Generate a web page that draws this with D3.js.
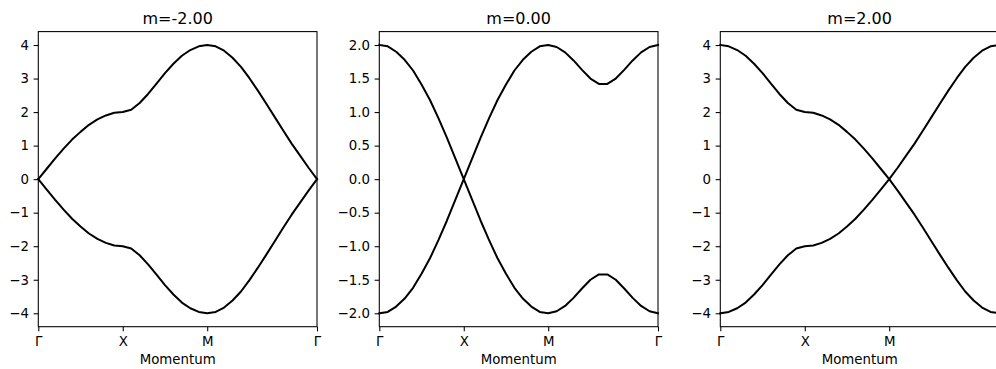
<!DOCTYPE html>
<html>
<head>
<meta charset="utf-8">
<script src="https://cdn.jsdelivr.net/npm/d3@7"></script>
<style>
  html, body { margin: 0; padding: 0; background: #fff; overflow: hidden; }
  svg { display: block; font-family: "DejaVu Sans", sans-serif; }
</style>
</head>
<body>
<svg id="chart" width="996" height="369"></svg>
<script>
// ---- data ----
const titles = ["m=-2.00", "m=0.00", "m=2.00"];
const xTickPos = [0, 10, 20, 33];
const xTickLabels = ["Γ", "X", "M", "Γ"];
const xLabel = "Momentum";
const yTicksA = [-4, -3, -2, -1, 0, 1, 2, 3, 4];
const yTicksB = [-2.0, -1.5, -1.0, -0.5, 0.0, 0.5, 1.0, 1.5, 2.0];

const upperM2 = [0.00, 0.31, 0.62, 0.91, 1.18, 1.41, 1.62, 1.78, 1.90, 1.98, 2.00,
  2.07, 2.27, 2.54, 2.85, 3.16, 3.44, 3.68, 3.85, 3.96, 4.00,
  3.96, 3.83, 3.62, 3.35, 3.01, 2.64, 2.25, 1.85, 1.45, 1.06, 0.70, 0.34, 0.00];
const lowerM2 = [0.00, -0.31, -0.62, -0.91, -1.18, -1.41, -1.62, -1.78, -1.90, -1.98, -2.00,
  -2.07, -2.27, -2.54, -2.85, -3.16, -3.44, -3.68, -3.85, -3.96, -4.00,
  -3.96, -3.83, -3.62, -3.35, -3.01, -2.64, -2.25, -1.85, -1.45, -1.06, -0.70, -0.34, 0.00];

const upperM0 = [2.00, 1.98, 1.90, 1.78, 1.62, 1.41, 1.18, 0.91, 0.62, 0.31, 0.00,
  0.31, 0.62, 0.91, 1.18, 1.41, 1.62, 1.78, 1.90, 1.98, 2.00,
  1.97, 1.89, 1.77, 1.63, 1.50, 1.42, 1.42, 1.50, 1.63, 1.77, 1.89, 1.97, 2.00];
const lowerM0 = [-2.00, -1.98, -1.90, -1.78, -1.62, -1.41, -1.18, -0.91, -0.62, -0.31, 0.00,
  -0.31, -0.62, -0.91, -1.18, -1.41, -1.62, -1.78, -1.90, -1.98, -2.00,
  -1.97, -1.89, -1.77, -1.63, -1.50, -1.42, -1.42, -1.50, -1.63, -1.77, -1.89, -1.97, -2.00];

const upperP2 = [4.00, 3.96, 3.85, 3.68, 3.44, 3.16, 2.85, 2.54, 2.27, 2.07, 2.00,
  1.98, 1.90, 1.78, 1.62, 1.41, 1.18, 0.91, 0.62, 0.31, 0.00,
  0.34, 0.70, 1.06, 1.45, 1.85, 2.25, 2.64, 3.01, 3.35, 3.62, 3.83, 3.96, 4.00];
const lowerP2 = [-4.00, -3.96, -3.85, -3.68, -3.44, -3.16, -2.85, -2.54, -2.27, -2.07, -2.00,
  -1.98, -1.90, -1.78, -1.62, -1.41, -1.18, -0.91, -0.62, -0.31, 0.00,
  -0.34, -0.70, -1.06, -1.45, -1.85, -2.25, -2.64, -3.01, -3.35, -3.62, -3.83, -3.96, -4.00];

const panelBands = [[upperM2, lowerM2], [upperM0, lowerM0], [upperP2, lowerP2]];
const panelYTicks = [yTicksA, yTicksB, yTicksA];
const panelYFormat = [d3.format("d"), d3.format(".1f"), d3.format("d")];

// ---- layout ----
const svg = d3.select("#chart");
const lefts = [38.3, 379.3, 720.3];
const pw = 278.7;
const plotTop = 31.6, plotBottom = 326.7;
const fs = 13.33;
const minus = s => s.replace(/-/g, "\u2212");

panelBands.forEach((bands, p) => {
  const yt = panelYTicks[p];
  const ext = d3.extent(bands.flat());
  const pad = (ext[1] - ext[0]) * 0.05;
  const x = d3.scaleLinear().domain([xTickPos[0], xTickPos[xTickPos.length - 1]]).range([lefts[p], lefts[p] + pw]);
  const y = d3.scaleLinear().domain([ext[0] - pad, ext[1] + pad]).range([plotBottom, plotTop]);

  const g = svg.append("g");

  const line = d3.line().x((d, i) => x(i)).y(d => y(d));
  bands.forEach(b => {
    g.append("path").datum(b).attr("d", line)
      .attr("fill", "none").attr("stroke", "#000").attr("stroke-width", 2)
      .attr("stroke-linejoin", "round").attr("stroke-linecap", "square");
  });

  g.append("rect").attr("x", lefts[p]).attr("y", plotTop).attr("width", pw).attr("height", plotBottom - plotTop)
    .attr("fill", "none").attr("stroke", "#000").attr("stroke-width", 1.07);

  const yAxis = d3.axisLeft(y).tickValues(yt).tickSize(4.67).tickSizeOuter(0).tickPadding(4.67)
    .tickFormat(d => minus(panelYFormat[p](d)));
  const ya = g.append("g").attr("transform", `translate(${lefts[p]},0)`).call(yAxis);
  ya.select(".domain").remove();

  const xAxis = d3.axisBottom(x).tickValues(xTickPos).tickSize(4.67).tickSizeOuter(0).tickPadding(5.5)
    .tickFormat((d, i) => xTickLabels[i]);
  const xa = g.append("g").attr("transform", `translate(0,${plotBottom})`).call(xAxis);
  xa.select(".domain").remove();

  [ya, xa].forEach(a => {
    a.selectAll("text").attr("font-size", fs).attr("fill", "#000").attr("font-family", "DejaVu Sans");
    a.selectAll("line").attr("stroke", "#000").attr("stroke-width", 1.07);
  });

  g.append("text").attr("x", lefts[p] + pw / 2).attr("y", 24).attr("text-anchor", "middle")
    .attr("font-size", 16).attr("fill", "#000").text(titles[p]);
  g.append("text").attr("x", lefts[p] + pw / 2).attr("y", 364).attr("text-anchor", "middle")
    .attr("font-size", fs).attr("fill", "#000").text(xLabel);
});
</script>
</body>
</html>
